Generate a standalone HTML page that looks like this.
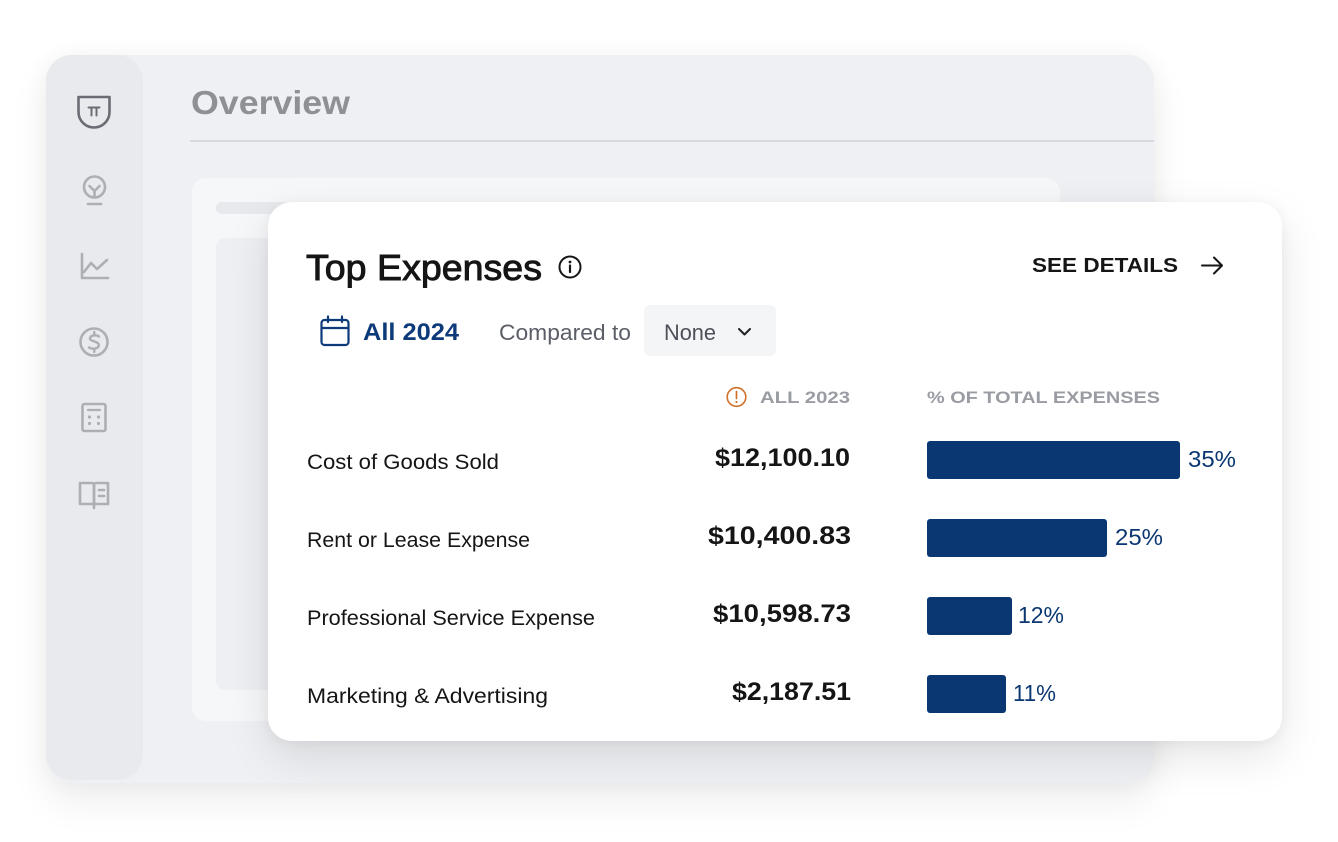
<!DOCTYPE html>
<html><head><meta charset="utf-8">
<style>
html,body{margin:0;padding:0;background:#fff;}
body{width:1338px;height:842px;position:relative;overflow:hidden;font-family:"Liberation Sans",sans-serif;}
.abs{position:absolute;}
#win{left:46px;top:55px;width:1108px;height:728px;background:#eff0f3;border-radius:26px;box-shadow:0 18px 40px rgba(0,0,0,0.07),0 0 24px rgba(0,0,0,0.04);overflow:hidden;}
#side{left:46px;top:55px;width:97px;height:725px;background:#e9eaee;border-radius:26px;}
#hline{left:190px;top:140px;width:964px;height:1.5px;background:#d8d9de;}
#inner{left:192px;top:178px;width:868px;height:543px;background:#f6f7f9;border-radius:14px;}
#skbar{left:216px;top:202px;width:600px;height:12px;background:#e8e9ed;border-radius:6px;}
#skrect{left:216px;top:238px;width:500px;height:452px;background:#eeeff2;border-radius:10px;}
#card{left:268px;top:202px;width:1014px;height:539px;background:#fff;border-radius:24px;box-shadow:0 16px 44px rgba(0,0,0,0.10),0 2px 12px rgba(0,0,0,0.05);}
#ov{left:0;top:0;}
</style></head><body>
<div id="win" class="abs"></div>
<div id="side" class="abs"></div>
<div id="hline" class="abs"></div>
<div id="inner" class="abs"></div>
<div id="skbar" class="abs"></div>
<div id="skrect" class="abs"></div>
<div id="card" class="abs"></div>
<svg id="ov" class="abs" width="1338" height="842" viewBox="0 0 1338 842" xmlns="http://www.w3.org/2000/svg" font-family="Liberation Sans, sans-serif">
  <!-- Sidebar icons -->
  <g fill="none" stroke="#6a6d74" stroke-width="2.6" stroke-linecap="round" stroke-linejoin="round">
    <path d="M78.5 97 H109.5 V112 A15.5 15.5 0 0 1 94 127.5 A15.5 15.5 0 0 1 78.5 112 Z"/>
    <path d="M88.5 107.5 H99.5 M91.5 107.5 V115.5 M96.5 107.5 V115.5" stroke-width="2"/>
  </g>
  <g fill="none" stroke="#adafb4" stroke-width="2.6" stroke-linecap="round" stroke-linejoin="round">
    <circle cx="94.5" cy="187" r="10.5"/>
    <path d="M89.5 186 L94.5 191 L99.5 186 M94.5 191 V197"/>
    <path d="M88 204 H101"/>
    <path d="M82 254 V278 H108"/>
    <path d="M84 272 L91 263 L97 269 L107 260"/>
    <circle cx="94" cy="342" r="13.5"/>
    <path d="M99 336.5 C97.5 335 91 334.5 90 338 C89 341.5 98.5 341 98.8 345 C99 349 92 349.5 89 347.5 M94.3 332 V335 M94.3 349 V352" stroke-width="2.4"/>
    <rect x="82.5" y="404" width="23" height="27" rx="2"/>
    <path d="M88 410 H100" stroke-width="2.2"/>
  </g>
  <g fill="#adafb4">
    <circle cx="89.5" cy="417" r="1.6"/><circle cx="98.5" cy="417" r="1.6"/>
    <circle cx="89.5" cy="423.5" r="1.6"/><circle cx="98.5" cy="423.5" r="1.6"/>
  </g>
  <g fill="none" stroke="#adafb4" stroke-width="2.6" stroke-linecap="round" stroke-linejoin="round">
    <path d="M80 483 H92 A2 2 0 0 1 94 485 V504 H80 Z"/>
    <path d="M108 483 H96 A2 2 0 0 0 94 485 V504 H108 Z"/>
    <path d="M94 504 V508"/>
    <path d="M99 490 H104 M99 496 H104"/>
  </g>

  <text x="191" y="114" font-size="33" font-weight="bold" fill="#8e9096" textLength="159" lengthAdjust="spacingAndGlyphs">Overview</text>

  <text x="306" y="280" font-size="36" fill="#151515" stroke="#151515" stroke-width="0.9" textLength="236" lengthAdjust="spacingAndGlyphs">Top Expenses</text>
  <circle cx="570" cy="267" r="10.5" fill="none" stroke="#151515" stroke-width="2"/>
  <circle cx="570" cy="262" r="1.4" fill="#151515"/>
  <path d="M570 265.5 V272" stroke="#151515" stroke-width="2.2" stroke-linecap="round"/>

  <text x="1032" y="272" font-size="20" font-weight="bold" fill="#151515" textLength="146" lengthAdjust="spacingAndGlyphs">SEE DETAILS</text>
  <path d="M1202 265.5 H1222 M1214 257.5 L1222 265.5 L1214 273.5" fill="none" stroke="#151515" stroke-width="2" stroke-linecap="round" stroke-linejoin="round"/>

  <g fill="none" stroke="#0d3b7a" stroke-width="2.2" stroke-linecap="round" stroke-linejoin="round">
    <rect x="321.5" y="320" width="27" height="25" rx="3"/>
    <path d="M322 328 H348"/>
    <path d="M328 316.5 V322 M342 316.5 V322"/>
  </g>
  <text x="363" y="340" font-size="24" font-weight="bold" fill="#0d3b7a" textLength="96" lengthAdjust="spacingAndGlyphs">All 2024</text>
  <text x="499" y="340" font-size="22" fill="#5b5e67" textLength="132" lengthAdjust="spacingAndGlyphs">Compared to</text>

  <rect x="644" y="305" width="132" height="51" rx="6" fill="#f4f5f7"/>
  <text x="664" y="340" font-size="22" fill="#4d5059" textLength="52" lengthAdjust="spacingAndGlyphs">None</text>
  <path d="M739 329 L744.5 334.5 L750 329" fill="none" stroke="#222" stroke-width="2" stroke-linecap="round" stroke-linejoin="round"/>

  <circle cx="736.5" cy="397" r="9.3" fill="none" stroke="#d0702a" stroke-width="1.6"/>
  <path d="M736.5 391.5 V398.5" stroke="#d0702a" stroke-width="1.7" stroke-linecap="round"/>
  <circle cx="736.5" cy="402" r="1.1" fill="#d0702a"/>
  <text x="760" y="403" font-size="17" font-weight="bold" fill="#9a9ca3" textLength="90" lengthAdjust="spacingAndGlyphs">ALL 2023</text>
  <text x="927" y="403" font-size="17" font-weight="bold" fill="#9a9ca3" textLength="233" lengthAdjust="spacingAndGlyphs">% OF TOTAL EXPENSES</text>

  <g font-size="21" fill="#151515">
    <text x="307" y="469" textLength="192" lengthAdjust="spacingAndGlyphs">Cost of Goods Sold</text>
    <text x="307" y="547" textLength="223" lengthAdjust="spacingAndGlyphs">Rent or Lease Expense</text>
    <text x="307" y="625" textLength="288" lengthAdjust="spacingAndGlyphs">Professional Service Expense</text>
    <text x="307" y="703" textLength="241" lengthAdjust="spacingAndGlyphs">Marketing &amp; Advertising</text>
  </g>
  <g font-size="25" font-weight="bold" fill="#151515">
    <text x="715" y="466" textLength="135" lengthAdjust="spacingAndGlyphs">$12,100.10</text>
    <text x="708" y="544" textLength="143" lengthAdjust="spacingAndGlyphs">$10,400.83</text>
    <text x="713" y="622" textLength="138" lengthAdjust="spacingAndGlyphs">$10,598.73</text>
    <text x="732" y="700" textLength="119" lengthAdjust="spacingAndGlyphs">$2,187.51</text>
  </g>

  <g fill="#0a3772">
    <rect x="927" y="441" width="253" height="38" rx="3"/>
    <rect x="927" y="519" width="180" height="38" rx="3"/>
    <rect x="927" y="597" width="85" height="38" rx="3"/>
    <rect x="927" y="675" width="79" height="38" rx="3"/>
  </g>
  <g font-size="23" fill="#0a3772">
    <text x="1188" y="467" textLength="48" lengthAdjust="spacingAndGlyphs">35%</text>
    <text x="1115" y="545" textLength="48" lengthAdjust="spacingAndGlyphs">25%</text>
    <text x="1018" y="623" textLength="46" lengthAdjust="spacingAndGlyphs">12%</text>
    <text x="1013" y="701" textLength="43" lengthAdjust="spacingAndGlyphs">11%</text>
  </g>
</svg>
</body></html>
